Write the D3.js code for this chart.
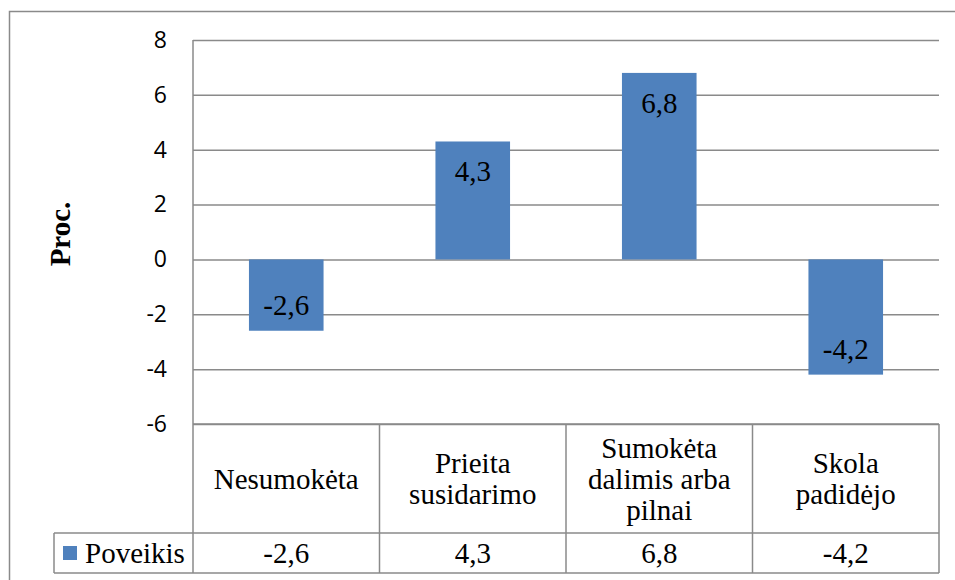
<!DOCTYPE html>
<html>
<head>
<meta charset="utf-8">
<script src="https://cdn.jsdelivr.net/npm/d3@7"></script>
<style>
  html, body { margin: 0; padding: 0; background: #fff; }
  svg { display: block; }
  .serif { font-family: "Liberation Serif", "Times New Roman", Tinos, serif; }
  .sans { font-family: "Open Sans", "Noto Sans", sans-serif; }
</style>
</head>
<body>
<script>
// Chart data
const categories = ["Nesumokėta", "Prieita susidarimo", "Sumokėta dalimis arba pilnai", "Skola padidėjo"];
const categoryLines = [["Nesumokėta"], ["Prieita", "susidarimo"], ["Sumokėta", "dalimis arba", "pilnai"], ["Skola", "padidėjo"]];
const seriesName = "Poveikis";
const values = [-2.6, 4.3, 6.8, -4.2];
const yTicks = [-6, -4, -2, 0, 2, 4, 6, 8];
const yTitle = "Proc.";

const W = 955, H = 580;
const plotLeft = 193, plotRight = 939, plotTop = 40, plotBottom = 424;
const rowSplit = 533, tableBottom = 573, legendLeft = 54;
const gridColor = "#8a8a8a";
const barColor = "#4f81bd";
const textSize = "29px";

const fmt = v => String(v).replace(".", ",");

const svg = d3.select("body").append("svg").attr("width", W).attr("height", H);

// Outer chart frame (continues past the right and bottom edges)
svg.append("rect")
  .attr("x", 9.5).attr("y", 11.5).attr("width", 960).attr("height", 600)
  .attr("fill", "none").attr("stroke", gridColor).attr("stroke-width", 1.5);

const x = d3.scaleBand().domain(categories).range([plotLeft, plotRight]).paddingInner(0).paddingOuter(0);
const y = d3.scaleLinear().domain([-6, 8]).range([plotBottom, plotTop]);

// Horizontal gridlines
const grid = svg.append("g")
  .attr("transform", `translate(${plotLeft},0)`)
  .call(d3.axisLeft(y).tickValues(yTicks).tickSize(-(plotRight - plotLeft)).tickFormat(""));
grid.select(".domain").remove();
grid.selectAll(".tick line").attr("stroke", gridColor).attr("stroke-width", 1.5);

// Tick labels
const yAxis = svg.append("g")
  .attr("transform", `translate(${plotLeft},0)`)
  .call(d3.axisLeft(y).tickValues(yTicks).tickSize(0).tickPadding(26).tickFormat(d => d.toString()));
yAxis.select(".domain").remove();
yAxis.attr("font-family", null).attr("font-size", null);
yAxis.selectAll(".tick text")
  .attr("class", "sans").style("font-size", "23px").attr("fill", "#000");

// Y axis title
svg.append("text")
  .attr("class", "serif")
  .attr("transform", `translate(70,${(plotTop + plotBottom) / 2 + 2}) rotate(-90)`)
  .attr("text-anchor", "middle")
  .style("font-weight", "bold").style("font-size", textSize)
  .text(yTitle);

// Bars
const barW = x.bandwidth() * 0.4;
svg.append("g").selectAll("rect").data(values).join("rect")
  .attr("x", (d, i) => x(categories[i]) + (x.bandwidth() - barW) / 2)
  .attr("y", d => y(Math.max(0, d)))
  .attr("width", barW)
  .attr("height", d => Math.abs(y(d) - y(0)))
  .attr("fill", barColor);

// Value labels inside bar ends
svg.append("g").selectAll("text").data(values).join("text")
  .attr("class", "serif")
  .attr("x", (d, i) => x(categories[i]) + x.bandwidth() / 2)
  .attr("y", d => d >= 0 ? y(d) + 40 : y(d) - 16)
  .attr("text-anchor", "middle")
  .style("font-size", textSize).attr("fill", "#000")
  .text(fmt);

// Data table
const table = svg.append("g").attr("stroke", gridColor).attr("stroke-width", 1.5).attr("fill", "none");
// vertical axis line running through the table
table.append("line").attr("x1", plotLeft).attr("x2", plotLeft).attr("y1", plotTop).attr("y2", tableBottom);
table.append("line").attr("x1", plotRight).attr("x2", plotRight).attr("y1", plotBottom).attr("y2", tableBottom);
table.append("line").attr("x1", plotLeft).attr("x2", plotRight).attr("y1", plotBottom).attr("y2", plotBottom);
table.append("line").attr("x1", legendLeft).attr("x2", plotRight).attr("y1", rowSplit).attr("y2", rowSplit);
table.append("line").attr("x1", legendLeft).attr("x2", plotRight).attr("y1", tableBottom).attr("y2", tableBottom);
table.append("line").attr("x1", legendLeft).attr("x2", legendLeft).attr("y1", rowSplit).attr("y2", tableBottom);
categories.slice(1).forEach(c => {
  table.append("line").attr("x1", x(c)).attr("x2", x(c)).attr("y1", plotBottom).attr("y2", tableBottom);
});

// Category labels
const lineH = 31;
const catMid = (plotBottom + rowSplit) / 2;
const catG = svg.append("g");
categoryLines.forEach((lines, i) => {
  const cx = x(categories[i]) + x.bandwidth() / 2;
  const t = catG.append("text")
    .attr("class", "serif")
    .attr("text-anchor", "middle")
    .style("font-size", textSize).attr("fill", "#000");
  lines.forEach((ln, j) => {
    t.append("tspan")
      .attr("x", cx)
      .attr("y", catMid + (j - (lines.length - 1) / 2) * lineH + 10)
      .text(ln);
  });
});

// Series row: legend key and values
const rowMid = (rowSplit + tableBottom) / 2;
svg.append("rect")
  .attr("x", 63).attr("y", rowMid - 7).attr("width", 14).attr("height", 14)
  .attr("fill", barColor);
svg.append("text")
  .attr("class", "serif")
  .attr("x", 85).attr("y", rowMid + 10)
  .style("font-size", textSize).attr("fill", "#000")
  .text(seriesName);
svg.append("g").selectAll("text").data(values).join("text")
  .attr("class", "serif")
  .attr("x", (d, i) => x(categories[i]) + x.bandwidth() / 2)
  .attr("y", rowMid + 10)
  .attr("text-anchor", "middle")
  .style("font-size", textSize).attr("fill", "#000")
  .text(fmt);
</script>
</body>
</html>
